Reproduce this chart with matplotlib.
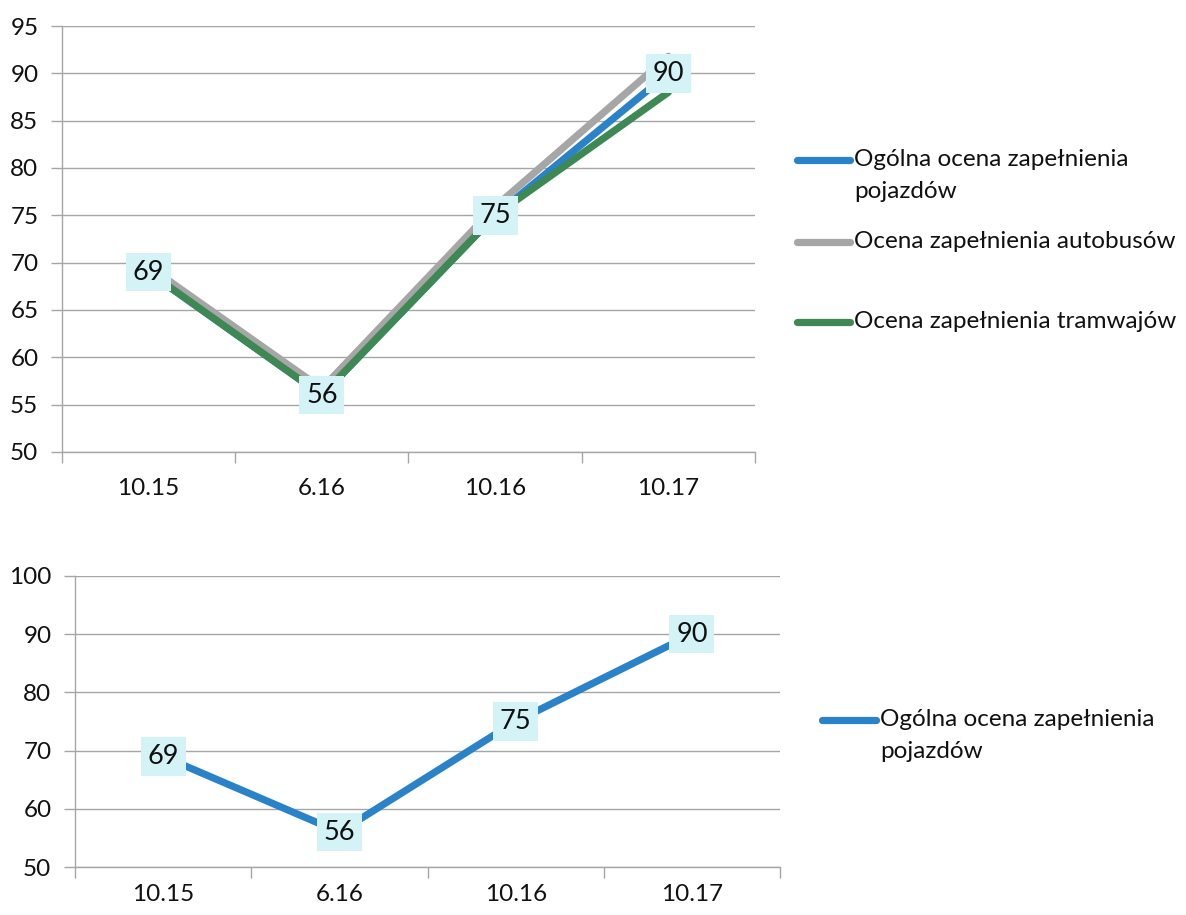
import matplotlib
matplotlib.use("Agg")
import matplotlib.pyplot as plt
from matplotlib.lines import Line2D
import numpy as np

plt.rcParams['font.family'] = ['Lato', 'DejaVu Sans']

# --- data -------------------------------------------------------------
categories = ['10.15', '6.16', '10.16', '10.17']
ogolna = [69, 56, 75, 90]            # Ogólna ocena zapełnienia pojazdów
autobusy = [69.6, 56.7, 75.9, 91.8]  # Ocena zapełnienia autobusów
tramwaje = [69, 56, 75, 88]          # Ocena zapełnienia tramwajów

top_yticks = list(range(50, 96, 5))
bottom_yticks = list(range(50, 101, 10))

labels_series = ['Ogólna ocena zapełnienia\npojazdów',
                 'Ocena zapełnienia autobusów',
                 'Ocena zapełnienia tramwajów']

# --- styles -----------------------------------------------------------
C_BLUE = '#2A82C8'
C_GREY = '#A6A6A6'
C_GREEN = '#3E8853'
C_GRID = '#A6A6A6'
C_BOX = '#D3F3F7'
LW = 5.2
FS_TICK = 17.5
FS_LEGEND = 17.5
FS_LABEL = 19.5

W, H = 1186, 915
fig = plt.figure(figsize=(W / 100, H / 100), dpi=100)


def px_rect(x0, y0, x1, y1):
    return [x0 / W, 1 - y1 / H, (x1 - x0) / W, (y1 - y0) / H]


def style_axes(ax, yticks, ypad, xpad):
    n = len(categories)
    x = np.arange(n)
    ax.set_xlim(-0.5, n - 0.5)
    ax.set_ylim(yticks[0], yticks[-1])
    ax.set_yticks(yticks)
    ax.set_yticklabels([str(v) for v in yticks], fontsize=FS_TICK,
                       color='#111111')
    # category boundaries get the tick marks, centres get the labels
    ax.set_xticks(np.arange(-0.5, n, 1.0))
    ax.set_xticklabels([])
    ax.set_xticks(x, minor=True)
    ax.set_xticklabels(categories, minor=True, fontsize=FS_TICK,
                       color='#111111')
    ax.tick_params(axis='x', which='major', length=8, width=1, color=C_GRID,
                   direction='out')
    ax.tick_params(axis='x', which='minor', length=0, pad=xpad)
    ax.tick_params(axis='y', length=8, width=1, color=C_GRID, pad=ypad,
                   direction='out')
    ax.grid(axis='y', color=C_GRID, linewidth=1)
    ax.set_axisbelow(True)
    for s in ('top', 'right'):
        ax.spines[s].set_visible(False)
    for s in ('left', 'bottom'):
        ax.spines[s].set_color(C_GRID)
        ax.spines[s].set_linewidth(1)
    return x


def value_labels(ax, x, values):
    for xi, v in zip(x, values):
        ax.text(xi, v, f'{v:g}', ha='center', va='center', fontsize=FS_LABEL,
                color='#111111', zorder=10,
                bbox=dict(boxstyle='square,pad=0.25', fc=C_BOX, ec='none'))


def legend_entry(y_px, x0_px, x1_px, color, text):
    fig.add_artist(Line2D([x0_px / W, x1_px / W], [1 - y_px / H, 1 - y_px / H],
                          transform=fig.transFigure, color=color, lw=LW,
                          solid_capstyle='round'))
    fig.text((x1_px + 4) / W, 1 - (y_px - 11) / H, text, fontsize=FS_LEGEND,
             ha='left', va='top', color='#111111', linespacing=1.65)


# --- top chart --------------------------------------------------------
ax1 = fig.add_axes(px_rect(62, 26, 755, 452))
x = style_axes(ax1, top_yticks, ypad=9, xpad=19)
line_kw = dict(lw=LW, solid_capstyle='round', solid_joinstyle='round')
ax1.plot(x, ogolna, color=C_BLUE, **line_kw, zorder=3)
ax1.plot(x, autobusy, color=C_GREY, **line_kw, zorder=4)
ax1.plot(x, tramwaje, color=C_GREEN, **line_kw, zorder=5)
value_labels(ax1, x, ogolna)

legend_entry(160, 797, 850, C_BLUE, labels_series[0])
legend_entry(242, 797, 850, C_GREY, labels_series[1])
legend_entry(322, 797, 850, C_GREEN, labels_series[2])

# --- bottom chart -----------------------------------------------------
ax2 = fig.add_axes(px_rect(75, 576, 780, 867))
x = style_axes(ax2, bottom_yticks, ypad=9, xpad=12)
ax2.plot(x, ogolna, color=C_BLUE, **line_kw, zorder=3)
value_labels(ax2, x, ogolna)

legend_entry(720, 822, 876, C_BLUE, labels_series[0])

fig.savefig('out.png', dpi=100)
